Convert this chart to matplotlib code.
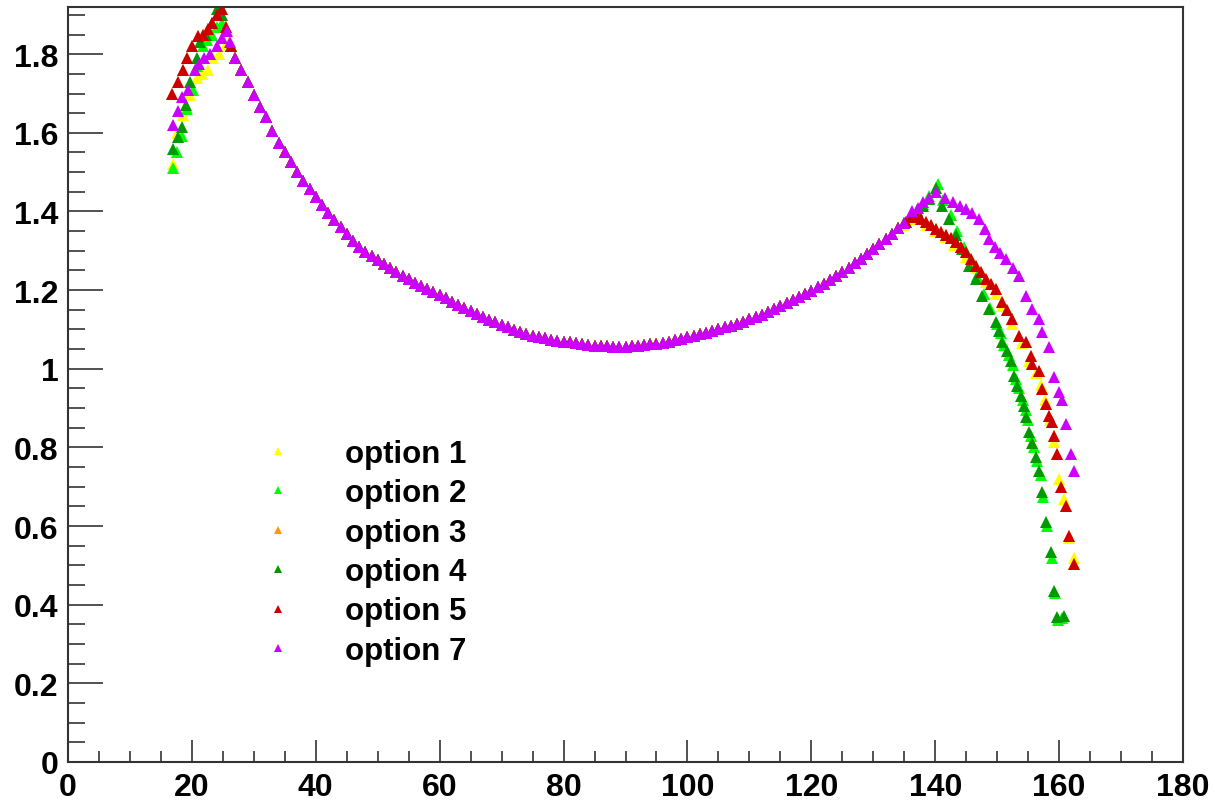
import matplotlib
matplotlib.use("Agg")
import numpy as np
import matplotlib.pyplot as plt
from matplotlib.ticker import MultipleLocator, FormatStrFormatter

plt.rcParams['font.family'] = ['Liberation Sans', 'DejaVu Sans']
plt.rcParams['font.weight'] = 'bold'

# shared middle part of all curves (x = 28 .. 134)
mid_x = list(range(28, 135))
mid_y = [1.76, 1.73, 1.695, 1.665, 1.64, 1.605, 1.575, 1.55, 1.525, 1.50,
         1.478, 1.457, 1.437, 1.417, 1.397, 1.378, 1.36, 1.342, 1.325, 1.31,
         1.297, 1.286, 1.276, 1.266, 1.256, 1.246, 1.237, 1.228, 1.219, 1.211,
         1.203, 1.195, 1.187, 1.179, 1.171, 1.163, 1.155, 1.147, 1.14, 1.132,
         1.125, 1.118, 1.111, 1.105, 1.099, 1.094, 1.088, 1.084, 1.08, 1.077,
         1.074, 1.071, 1.069, 1.067, 1.065, 1.063, 1.061, 1.059, 1.058, 1.057,
         1.056, 1.056, 1.056, 1.057, 1.058, 1.06, 1.062, 1.064, 1.066, 1.069,
         1.072, 1.076, 1.08, 1.084, 1.088, 1.092, 1.096, 1.1, 1.105, 1.11,
         1.115, 1.12, 1.126, 1.132, 1.138, 1.145, 1.152, 1.159, 1.166, 1.174,
         1.182, 1.19, 1.198, 1.207, 1.216, 1.226, 1.236, 1.246, 1.257, 1.268,
         1.28, 1.292, 1.305, 1.318, 1.331, 1.344, 1.357]

# option 1 (yellow)
o1_head_x = [17, 17.6, 18.6, 19.7, 20.8, 21.6, 22.6, 23.4, 24.3, 25.3, 26, 27]
o1_head_y = [1.52, 1.60, 1.645, 1.695, 1.74, 1.75, 1.76, 1.79, 1.80, 1.82, 1.83, 1.79]
o1_tail_x = [135, 136, 137.4, 138.5, 140, 141.5, 143, 145, 146.6, 148.2, 149.8, 150.8,
             152.4, 154, 155.2, 156.2, 157, 157.8, 158.5, 159.2, 160, 160.8, 161.6, 162.4]
o1_tail_y = [1.365, 1.38, 1.38, 1.365, 1.35, 1.335, 1.315, 1.285, 1.255, 1.22, 1.19, 1.16,
             1.115, 1.065, 1.02, 0.99, 0.96, 0.92, 0.87, 0.815, 0.72, 0.67, 0.57, 0.52]

# option 2 (light green)
o2_head_x = [17, 17.6, 18.4, 19.2, 20.2, 20.8, 21.8, 22.5, 23.2, 24, 24.8, 25.5, 26.3, 27]
o2_head_y = [1.51, 1.55, 1.593, 1.66, 1.71, 1.77, 1.82, 1.835, 1.85, 1.87, 1.88, 1.86, 1.82, 1.79]
o2_tail_x = [135, 136, 137, 138, 139, 140.5, 141.3, 142.5, 143.5, 144.6, 145.7, 146.8,
             147.8, 148.9, 150, 150.6, 151.1, 151.9, 152.5, 153, 153.5, 154.1, 154.6,
             155, 155.5, 156, 156.5, 157, 157.4, 158, 158.8, 159.3, 159.8, 160.4]
o2_tail_y = [1.37, 1.387, 1.403, 1.42, 1.44, 1.47, 1.43, 1.39, 1.35, 1.31, 1.27, 1.235,
             1.19, 1.155, 1.115, 1.09, 1.06, 1.035, 1.01, 0.975, 0.95, 0.92, 0.895,
             0.87, 0.83, 0.80, 0.765, 0.73, 0.675, 0.60, 0.52, 0.43, 0.36, 0.365]

# option 5 (red)
o5_head_x = [16.8, 17.8, 18.6, 19.2, 20, 21, 21.8, 22.6, 23.3, 24, 24.8, 25.5, 26.3, 27]
o5_head_y = [1.70, 1.73, 1.76, 1.79, 1.82, 1.845, 1.85, 1.865, 1.88, 1.90, 1.915, 1.87, 1.82, 1.79]
o5_tail_x = [135.3, 136.2, 136.9, 137.7, 138.5, 139.3, 140.2, 141, 141.7, 142.5, 143.3,
             144.2, 145, 145.8, 146.6, 147.4, 148.2, 149, 149.8, 150.8, 151.6, 152.4,
             153.5, 154.7, 155.5, 155.7, 156.8, 157.3, 157.9, 158.4, 158.9, 159.2,
             159.7, 160.3, 161.1, 161.6, 162.4]
o5_tail_y = [1.373, 1.385, 1.39, 1.38, 1.373, 1.365, 1.356, 1.348, 1.34, 1.332, 1.323,
             1.31, 1.297, 1.28, 1.262, 1.245, 1.229, 1.216, 1.203, 1.17, 1.15, 1.127,
             1.084, 1.068, 1.033, 1.013, 0.995, 0.949, 0.911, 0.881, 0.865, 0.83,
             0.784, 0.70, 0.65, 0.575, 0.504]

# option 3 (orange) sits underneath option 5
o3_head_x, o3_head_y = o5_head_x, o5_head_y
o3_tail_x, o3_tail_y = o5_tail_x, o5_tail_y

# option 4 (dark green)
o4_head_x = [17, 17.7, 18.4, 19, 19.7, 20.8, 21.3, 22.2, 23.2, 24, 24.8, 25.5, 26.3, 27]
o4_head_y = [1.56, 1.59, 1.615, 1.67, 1.73, 1.79, 1.83, 1.85, 1.88, 1.915, 1.90, 1.86, 1.82, 1.79]
o4_tail_x = [135, 136, 137, 138, 139, 140.2, 141.1, 142.3, 143.3, 144.4, 145.5, 146.6,
             147.6, 148.7, 149.8, 150.3, 150.8, 151.6, 152.3, 152.7, 153.2, 153.9,
             154.4, 154.7, 155.2, 155.7, 156.3, 156.8, 157.3, 157.9, 158.7, 159.2,
             159.7, 160.8]
o4_tail_y = [1.37, 1.385, 1.40, 1.415, 1.432, 1.46, 1.415, 1.38, 1.34, 1.305, 1.262, 1.229,
             1.186, 1.153, 1.12, 1.097, 1.068, 1.046, 1.02, 0.982, 0.957, 0.93,
             0.905, 0.878, 0.84, 0.81, 0.775, 0.74, 0.687, 0.61, 0.534, 0.435,
             0.37, 0.372]

# option 7 (violet)
o7_head_x = [17, 17.7, 18.4, 19.4, 20.5, 21.2, 22, 23, 24, 24.8, 25.6, 26.1, 27]
o7_head_y = [1.62, 1.655, 1.69, 1.71, 1.76, 1.775, 1.79, 1.80, 1.82, 1.84, 1.86, 1.83, 1.79]
o7_tail_x = [135, 136.3, 137.2, 138, 139, 140.2, 141.5, 142.8, 144, 145, 146, 147.1,
             148, 148.7, 149.6, 150.5, 151.4, 152.5, 153.5, 154.7, 155.7, 156.8,
             157.3, 158.4, 159.2, 160, 160.5, 161.1, 161.9, 162.4]
o7_tail_y = [1.37, 1.40, 1.41, 1.425, 1.435, 1.45, 1.435, 1.425, 1.415, 1.407, 1.395, 1.38,
             1.355, 1.33, 1.31, 1.295, 1.28, 1.257, 1.237, 1.186, 1.153, 1.127,
             1.094, 1.055, 0.98, 0.94, 0.92, 0.86, 0.784, 0.74]

labels = ["option 1", "option 2", "option 3", "option 4", "option 5", "option 7"]
colors = ["#ffff00", "#00ff00", "#ff9900", "#009900", "#cc0000", "#cc00ff"]
heads = [(o1_head_x, o1_head_y), (o2_head_x, o2_head_y), (o3_head_x, o3_head_y),
         (o4_head_x, o4_head_y), (o5_head_x, o5_head_y), (o7_head_x, o7_head_y)]
tails = [(o1_tail_x, o1_tail_y), (o2_tail_x, o2_tail_y), (o3_tail_x, o3_tail_y),
         (o4_tail_x, o4_tail_y), (o5_tail_x, o5_tail_y), (o7_tail_x, o7_tail_y)]

fig = plt.figure(figsize=(12.15, 8.04), dpi=100)
ax = fig.add_axes([68 / 1215, 1 - 763 / 804, 1115 / 1215, 755 / 804])

for lab, col, (hx, hy), (tx, ty) in zip(labels, colors, heads, tails):
    xs = list(hx) + mid_x + list(tx)
    ys = list(hy) + mid_y + list(ty)
    ax.plot(xs, ys, linestyle='none', marker='^', markersize=8.5,
            markeredgewidth=0, color=col, label=lab)

ax.set_xlim(0, 180)
ax.set_ylim(0, 1.92)

ax.xaxis.set_major_locator(MultipleLocator(20))
ax.xaxis.set_minor_locator(MultipleLocator(5))
ax.yaxis.set_major_locator(MultipleLocator(0.2))
ax.yaxis.set_minor_locator(MultipleLocator(0.05))
ax.yaxis.set_major_formatter(FormatStrFormatter('%g'))

ax.tick_params(axis='x', which='major', direction='in', length=16, width=1.2,
               labelsize=23, pad=7, color='#333333')
ax.tick_params(axis='x', which='minor', direction='in', length=8, width=1.2,
               color='#333333')
ax.tick_params(axis='y', which='major', direction='in', length=25, width=1.2,
               labelsize=23, pad=7, color='#333333')
ax.tick_params(axis='y', which='minor', direction='in', length=12.5, width=1.2,
               color='#333333')
for lbl in ax.get_xticklabels() + ax.get_yticklabels():
    lbl.set_fontweight('bold')

for s in ax.spines.values():
    s.set_linewidth(1.5)
    s.set_color('#333333')

leg = ax.legend(loc='upper left', bbox_to_anchor=(247 / 1215, 1 - 440 / 804),
                bbox_transform=fig.transFigure, frameon=False, numpoints=1,
                markerscale=0.75,
                prop={'size': 22.5, 'weight': 'bold'}, handlelength=2.0,
                handletextpad=1.14, labelspacing=0.3, borderpad=0,
                borderaxespad=0)

fig.savefig("out.png", dpi=100)
